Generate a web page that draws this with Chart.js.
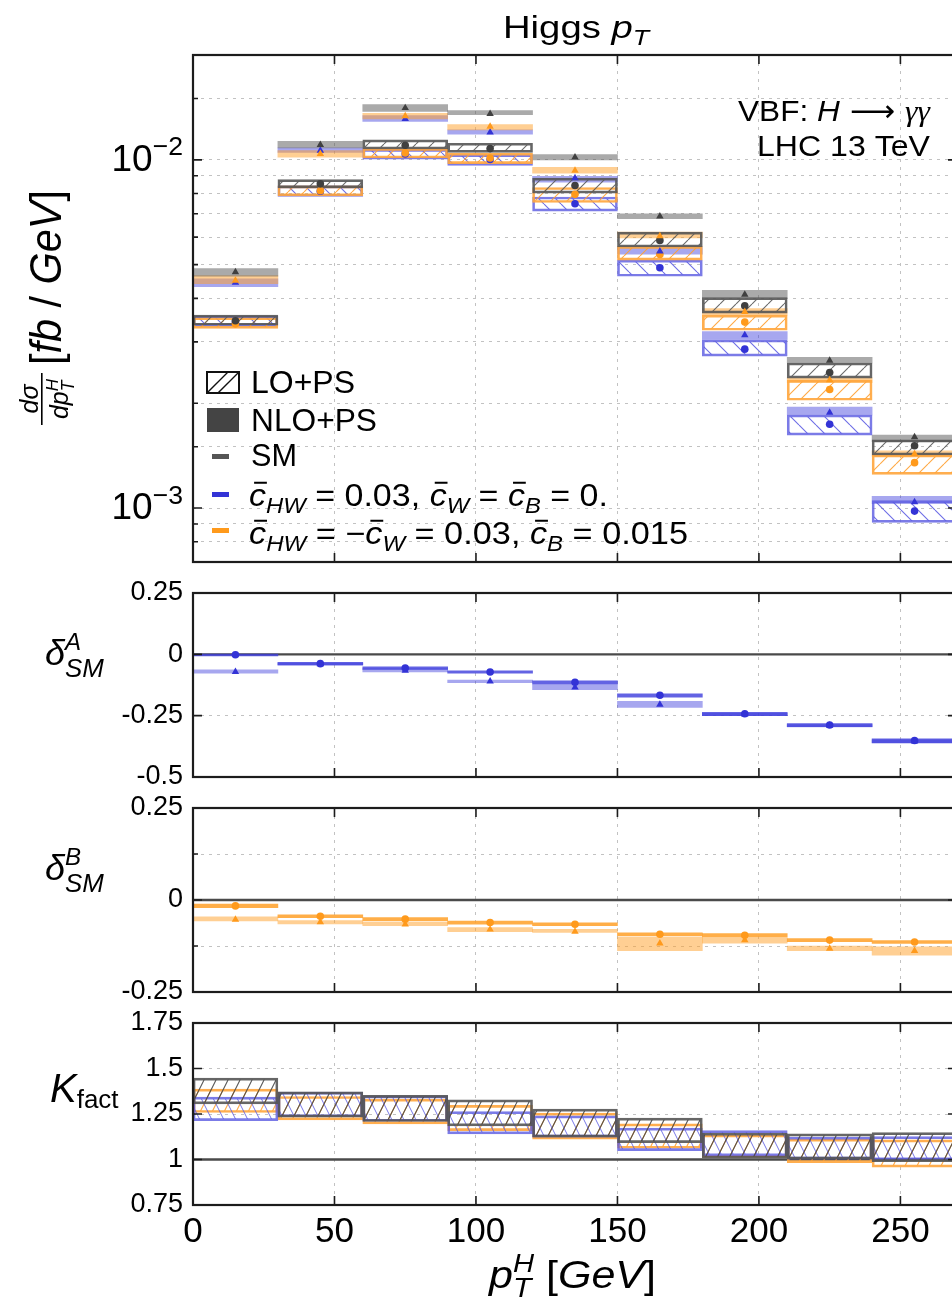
<!DOCTYPE html>
<html>
<head>
<meta charset="utf-8">
<title>Higgs pT</title>
<script src="https://cdn.jsdelivr.net/npm/chart.js@4.4.1/dist/chart.umd.min.js"></script>
<style>
  html, body { margin: 0; padding: 0; background: #fff; overflow: hidden; width: 952px; height: 1303px; }
  canvas { position: absolute; left: 0; top: 0; }
</style>
</head>
<body>
<canvas id="main" width="1000" height="1303"></canvas>
<canvas id="deltaA" width="1000" height="1303"></canvas>
<canvas id="deltaB" width="1000" height="1303"></canvas>
<canvas id="kfact" width="1000" height="1303"></canvas>
<script>
// bins in pT (GeV)
const binEdges = [0, 30, 60, 90, 120, 150, 180, 210, 240, 270];
const binCenters = binEdges.slice(1).map((e, i) => (e + binEdges[i]) / 2);

// d sigma / d pT [fb/GeV] -- SM
const smLo = [0.00345, 0.00853, 0.01101, 0.01077, 0.00844, 0.00587, 0.00381, 0.00245, 0.00151];
const smLoBand = [[0.00335, 0.00358], [0.00831, 0.00877], [0.01074, 0.01141], [0.01051, 0.01116], [0.00802, 0.00886], [0.00562, 0.00620], [0.00363, 0.00402], [0.00236, 0.00261], [0.00142, 0.00157]];
const smNlo = [0.00476, 0.01104, 0.01409, 0.01355, 0.01017, 0.00688, 0.00410, 0.00265, 0.00160];
const smNloBand = [[0.00463, 0.00487], [0.01082, 0.01131], [0.01378, 0.01440], [0.01347, 0.01384], [0.01000, 0.01035], [0.00678, 0.00700], [0.00402, 0.00422], [0.00261, 0.00271], [0.00155, 0.00162]];

// cHW = 0.03, cW = cB = 0
const aLo = [0.00342, 0.00813, 0.01040, 0.01002, 0.00748, 0.00490, 0.00286, 0.00174, 0.00098];
const aLoBand = [[0.00333, 0.00356], [0.00785, 0.00842], [0.01004, 0.01072], [0.00963, 0.01035], [0.00712, 0.00782], [0.00463, 0.00515], [0.00273, 0.00304], [0.00162, 0.00185], [0.00091, 0.00105]];
const aNlo = [0.00444, 0.01063, 0.01311, 0.01200, 0.00886, 0.00546, 0.00314, 0.00188, 0.00104];
const aNloBand = [[0.00432, 0.00455], [0.01051, 0.01082], [0.01290, 0.01339], [0.01185, 0.01220], [0.00863, 0.00896], [0.00536, 0.00560], [0.00305, 0.00321], [0.00185, 0.00195], [0.00103, 0.00108]];

// cHW = -cW = 0.03, cB = 0.015
const bLo = [0.00338, 0.00815, 0.01046, 0.01012, 0.00796, 0.00535, 0.00342, 0.00219, 0.00135];
const bLoBand = [[0.00328, 0.00352], [0.00788, 0.00842], [0.01012, 0.01078], [0.00975, 0.01045], [0.00754, 0.00833], [0.00515, 0.00564], [0.00324, 0.00358], [0.00204, 0.00233], [0.00125, 0.00142]];
const bNlo = [0.00450, 0.01040, 0.01335, 0.01246, 0.00932, 0.00604, 0.00366, 0.00233, 0.00143];
const bNloBand = [[0.00441, 0.00465], [0.01017, 0.01063], [0.01311, 0.01360], [0.01219, 0.01263], [0.00916, 0.00952], [0.00597, 0.00620], [0.00358, 0.00374], [0.00229, 0.00237], [0.00141, 0.00146]];

// relative deviation from the SM
const dALo = [-0.002, -0.038, -0.056, -0.072, -0.114, -0.167, -0.242, -0.288, -0.351];
const dALoBand = [[-0.006, 0.001], [-0.043, -0.033], [-0.061, -0.051], [-0.077, -0.067], [-0.122, -0.108], [-0.175, -0.161], [-0.250, -0.236], [-0.295, -0.282], [-0.360, -0.344]];
const dANlo = [-0.071, -0.040, -0.066, -0.110, -0.135, -0.205, -0.245, -0.290, -0.355];
const dANloBand = [[-0.077, -0.063], [-0.044, -0.036], [-0.072, -0.058], [-0.115, -0.105], [-0.144, -0.124], [-0.216, -0.192], [-0.250, -0.240], [-0.296, -0.286], [-0.362, -0.348]];

const dBLo = [-0.016, -0.044, -0.052, -0.061, -0.066, -0.093, -0.096, -0.109, -0.114];
const dBLoBand = [[-0.021, -0.011], [-0.048, -0.040], [-0.057, -0.048], [-0.066, -0.057], [-0.070, -0.062], [-0.097, -0.089], [-0.100, -0.091], [-0.113, -0.105], [-0.118, -0.110]];
const dBNlo = [-0.053, -0.060, -0.066, -0.080, -0.086, -0.118, -0.109, -0.132, -0.138];
const dBNloBand = [[-0.057, -0.046], [-0.065, -0.056], [-0.070, -0.061], [-0.086, -0.075], [-0.088, -0.080], [-0.138, -0.100], [-0.117, -0.102], [-0.138, -0.125], [-0.150, -0.127]];

// K factor bands (NLO / LO)
const kSmBand = [[1.306, 1.447], [1.233, 1.372], [1.209, 1.352], [1.185, 1.328], [1.123, 1.277], [1.093, 1.227], [1.007, 1.145], [1.002, 1.141], [0.988, 1.148]];
const kABand = [[1.214, 1.343], [1.235, 1.370], [1.210, 1.350], [1.141, 1.263], [1.123, 1.240], [1.049, 1.172], [1.020, 1.159], [1.002, 1.123], [0.998, 1.126]];
const kBBand = [[1.258, 1.387], [1.218, 1.346], [1.196, 1.332], [1.159, 1.297], [1.112, 1.255], [1.062, 1.196], [1.012, 1.135], [0.983, 1.112], [0.958, 1.108]];

const W = 1000, H = 1303, PLOT_L = 193, PLOT_R = 957;
const FAM = "'Liberation Sans', Arial, Helvetica, sans-serif";
Chart.defaults.font.family = FAM;
Chart.defaults.color = '#000';

const GRAY = '#404040', BLUE = '#3333d6', ORANGE = '#ff9a1c';

function hatch(color, dir, w, h, lw) {
  const c = document.createElement('canvas');
  c.width = w; c.height = h;
  const g = c.getContext('2d');
  g.strokeStyle = color;
  g.lineWidth = lw;
  g.beginPath();
  for (const dx of [-w, 0, w]) {
    if (dir > 0) { g.moveTo(dx, h); g.lineTo(dx + w, 0); }
    else { g.moveTo(dx, 0); g.lineTo(dx + w, h); }
  }
  g.stroke();
  return g.createPattern(c, 'repeat');
}

// rich text: runs of {t, it, sz, dy, keep, bar, fam}
const N = t => ({ t });
const I = t => ({ t, it: true });
const CB = () => ({ t: 'c', it: true, bar: true });
const SUB = t => ({ t, it: true, sz: 0.7, dy: 0.22 });
const SUP = t => ({ t, it: true, sz: 0.68, dy: -0.42, keep: true });

function rich(ctx, runs, x, y, fs, opt = {}) {
  ctx.save();
  const items = [];
  let pos = 0, held = 0;
  for (const r of runs) {
    const size = fs * (r.sz || 1);
    const f = (r.it ? 'italic ' : '') + size.toFixed(1) + 'px ' + (r.fam || FAM);
    ctx.font = f;
    const w = ctx.measureText(r.t).width;
    items.push({ r, f, size, x: pos, w });
    if (r.keep) held = w;
    else { pos += Math.max(w, held); held = 0; }
  }
  const sx = opt.width ? opt.width / pos : 1;
  const total = pos * sx;
  const x0 = opt.align === 'right' ? x - total : opt.align === 'center' ? x - total / 2 : x;
  ctx.translate(x0, y);
  ctx.scale(sx, 1);
  ctx.fillStyle = ctx.strokeStyle = opt.color || '#000';
  ctx.textBaseline = 'alphabetic';
  ctx.textAlign = 'left';
  for (const it of items) {
    ctx.font = it.f;
    const dy = (it.r.dy || 0) * fs;
    ctx.fillText(it.r.t, it.x, dy);
    if (it.r.bar) {
      ctx.lineWidth = Math.max(1.3, it.size * 0.065);
      const by = dy - it.size * 0.75;
      ctx.beginPath();
      ctx.moveTo(it.x + it.w * 0.3, by);
      ctx.lineTo(it.x + it.w * 1.05, by);
      ctx.stroke();
    }
  }
  ctx.restore();
}

const barCommon = { type: 'bar', grouped: false, barPercentage: 1, categoryPercentage: 1, borderSkipped: false, borderWidth: 0 };
function band(pairs, style) {
  return { ...barCommon, data: pairs.map((p, i) => ({ x: binCenters[i], y: p })), ...style };
}
function marks(vals, shape, color, r) {
  return {
    type: 'line', showLine: false, order: 0,
    data: vals.map((v, i) => ({ x: binCenters[i], y: v })),
    pointStyle: shape, pointRadius: r, pointBackgroundColor: color, pointBorderColor: color, pointBorderWidth: 0
  };
}
function refLine(v) {
  return {
    type: 'line', order: 9, pointRadius: 0, borderColor: '#4a4a4a', borderWidth: 2.4,
    data: [{ x: binEdges[0], y: v }, { x: binEdges[binEdges.length - 1], y: v }]
  };
}

function isMajorY(scale, v) {
  if (scale.type === 'logarithmic') {
    const e = Math.log10(v);
    return Math.abs(e - Math.round(e)) < 1e-6;
  }
  return Math.abs(v / 0.25 - Math.round(v / 0.25)) < 1e-6;
}

// inward ticks on all four sides plus the plot frame
const framePlugin = {
  id: 'frame',
  afterDatasetsDraw(chart) {
    const { ctx, chartArea: a } = chart;
    const x = chart.scales.x, y = chart.scales.y;
    ctx.save();
    ctx.strokeStyle = '#1c1c1c';
    ctx.lineWidth = 1.6;
    ctx.beginPath();
    x.ticks.forEach(t => {
      const px = x.getPixelForValue(t.value);
      ctx.moveTo(px, a.top); ctx.lineTo(px, a.top + 9);
      ctx.moveTo(px, a.bottom); ctx.lineTo(px, a.bottom - 9);
    });
    y.ticks.forEach(t => {
      const py = y.getPixelForValue(t.value);
      const len = isMajorY(y, t.value) ? 9 : 5;
      ctx.moveTo(a.left, py); ctx.lineTo(a.left + len, py);
      ctx.moveTo(a.right, py); ctx.lineTo(a.right - len, py);
    });
    ctx.stroke();
    ctx.lineWidth = 2.2;
    ctx.strokeRect(a.left, a.top, a.right - a.left, a.bottom - a.top);
    ctx.restore();
  }
};

const gridOpts = { color: '#c2c2c2', lineWidth: 1, drawTicks: false, offset: false };
function xScale(labels) {
  return {
    type: 'linear', min: binEdges[0], max: binEdges[binEdges.length - 1], offset: false,
    grid: gridOpts,
    border: { display: false, dash: [3, 5] },
    ticks: { display: labels, stepSize: 50, includeBounds: false, autoSkip: false, maxRotation: 0, padding: 6, color: '#000', font: { size: 35 } },
    afterFit: s => { s.height = labels ? H - 1205 : 0; }
  };
}
function yLinear(min, max) {
  return {
    type: 'linear', min, max,
    grid: gridOpts,
    border: { display: false, dash: [3, 5] },
    ticks: { stepSize: 0.125, padding: 10, color: '#000', font: { size: 27 }, callback: v => (Math.abs(v / 0.25 - Math.round(v / 0.25)) < 1e-6 ? String(+v.toFixed(3)) : '') },
    afterFit: s => { s.width = PLOT_L; }
  };
}
function baseOptions(top, bottom, yOpts, xLabels) {
  return {
    responsive: false, animation: false, events: [], devicePixelRatio: 1,
    layout: { padding: { top, bottom: H - bottom, left: 0, right: W - PLOT_R } },
    plugins: { legend: { display: false }, tooltip: { enabled: false } },
    scales: { x: xScale(xLabels), y: yOpts }
  };
}

// ---------- main distribution ----------
const hMain = {
  sm: hatch('rgba(90,90,90,0.9)', 1, 16, 16, 1.1),
  a: hatch('rgba(85,85,225,0.85)', -1, 17, 17, 1.1),
  b: hatch('rgba(255,160,50,0.9)', 1, 16, 16, 1.1)
};

const mainText = {
  id: 'mainText',
  afterDraw(chart) {
    const ctx = chart.ctx, y = chart.scales.y;
    y.ticks.forEach(t => {
      if (!isMajorY(y, t.value)) return;
      const e = Math.round(Math.log10(t.value));
      const py = y.getPixelForValue(t.value);
      rich(ctx, [N('10'), { t: '\u2212' + Math.abs(e), sz: 0.72, dy: -0.42 }], 183, py + 11, 37, { align: 'right' });
    });

    rich(ctx, [N('Higgs '), I('p'), SUB('T')], 503, 38, 32, { width: 146 });
    rich(ctx, [N('VBF: '), I('H'), { t: ' \u27f6 ', fam: "'DejaVu Sans'" }, { t: '\u03b3\u03b3', it: true, fam: "'Liberation Serif'" }], 930, 121, 30, { align: 'right', width: 192 });
    rich(ctx, [N('LHC 13 TeV')], 930, 156, 30, { align: 'right', width: 173 });

    // y title, rotated
    ctx.save();
    ctx.translate(0, 425);
    ctx.rotate(-Math.PI / 2);
    rich(ctx, [I('d\u03c3')], 26, 38, 25, { align: 'center' });
    ctx.fillStyle = '#000';
    ctx.fillRect(0, 41, 52, 1.6);
    rich(ctx, [I('dp'), SUP('H'), SUB('T')], 26, 68, 25, { align: 'center' });
    rich(ctx, [N('['), I('fb'), N(' / '), I('GeV'), N(']')], 60, 61, 44, { width: 175 });
    ctx.restore();

    // legend
    ctx.save();
    ctx.strokeStyle = '#111';
    ctx.lineWidth = 2;
    ctx.strokeRect(207, 372, 32, 21);
    ctx.beginPath();
    ctx.rect(207, 372, 32, 21);
    ctx.clip();
    ctx.lineWidth = 1.4;
    ctx.beginPath();
    ctx.moveTo(207, 393); ctx.lineTo(228, 372);
    ctx.moveTo(218, 393); ctx.lineTo(239, 372);
    ctx.stroke();
    ctx.restore();
    ctx.fillStyle = '#444';
    ctx.fillRect(207, 408, 32, 24);
    ctx.fillStyle = '#555';
    ctx.fillRect(212, 454, 17, 5);
    ctx.fillStyle = BLUE;
    ctx.fillRect(212, 492, 17, 5);
    ctx.fillStyle = ORANGE;
    ctx.fillRect(212, 528, 17, 5);

    rich(ctx, [N('LO+PS')], 251, 393, 31, { width: 104 });
    rich(ctx, [N('NLO+PS')], 251, 431, 31, { width: 126 });
    rich(ctx, [N('SM')], 251, 466, 31, { width: 46 });
    rich(ctx, [CB(), SUB('HW'), N(' = 0.03, '), CB(), SUB('W'), N(' = '), CB(), SUB('B'), N(' = 0.')], 249, 506, 31, { width: 359 });
    rich(ctx, [CB(), SUB('HW'), N(' = \u2212'), CB(), SUB('W'), N(' = 0.03, '), CB(), SUB('B'), N(' = 0.015')], 249, 544, 31, { width: 439 });
  }
};

new Chart(document.getElementById('main'), {
  type: 'bar',
  data: {
    datasets: [
      band(smNloBand, { backgroundColor: 'rgba(85,85,85,0.5)', order: 3 }),
      band(bNloBand, { backgroundColor: 'rgba(255,160,40,0.5)', order: 3 }),
      band(aNloBand, { backgroundColor: 'rgba(60,60,220,0.45)', order: 3 }),
      band(smLoBand, { backgroundColor: hMain.sm, borderColor: 'rgba(85,85,85,0.9)', borderWidth: 2, order: 2 }),
      band(bLoBand, { backgroundColor: hMain.b, borderColor: 'rgba(255,165,60,0.9)', borderWidth: 2, order: 2 }),
      band(aLoBand, { backgroundColor: hMain.a, borderColor: 'rgba(90,90,225,0.8)', borderWidth: 2, order: 2 }),
      marks(smNlo, 'triangle', GRAY, 4.3),
      marks(bNlo, 'triangle', ORANGE, 4.3),
      marks(aNlo, 'triangle', BLUE, 4.3),
      marks(smLo, 'circle', GRAY, 3.8),
      marks(bLo, 'circle', ORANGE, 3.8),
      marks(aLo, 'circle', BLUE, 3.8)
    ]
  },
  options: baseOptions(55, 562, {
    type: 'logarithmic', min: 0.0007, max: 0.02,
    grid: gridOpts,
    border: { display: false, dash: [3, 5] },
    ticks: { padding: 10, callback: () => '' },
    afterFit: s => { s.width = PLOT_L; }
  }, false),
  plugins: [framePlugin, mainText]
});

// ---------- deviation panels ----------
function deltaLabel(sup, baseY) {
  return {
    id: 'deltaLabel' + sup,
    afterDraw(chart) {
      rich(chart.ctx, [I('\u03b4'), { t: sup, it: true, sz: 0.67, dy: -0.42, keep: true }, { t: 'SM', it: true, sz: 0.72, dy: 0.33 }], 45, baseY, 36);
    }
  };
}

new Chart(document.getElementById('deltaA'), {
  type: 'bar',
  data: {
    datasets: [
      refLine(0),
      band(dANloBand, { backgroundColor: 'rgba(60,60,220,0.45)', order: 3 }),
      band(dALoBand, { backgroundColor: 'rgba(60,60,220,0.8)', order: 2 }),
      marks(dANlo, 'triangle', BLUE, 4.3),
      marks(dALo, 'circle', BLUE, 3.8)
    ]
  },
  options: baseOptions(593, 777, yLinear(-0.5, 0.25), false),
  plugins: [framePlugin, deltaLabel('A', 665)]
});

new Chart(document.getElementById('deltaB'), {
  type: 'bar',
  data: {
    datasets: [
      refLine(0),
      band(dBNloBand, { backgroundColor: 'rgba(255,160,40,0.5)', order: 3 }),
      band(dBLoBand, { backgroundColor: 'rgba(255,160,40,0.85)', order: 2 }),
      marks(dBNlo, 'triangle', ORANGE, 4.3),
      marks(dBLo, 'circle', ORANGE, 3.8)
    ]
  },
  options: baseOptions(808, 992, yLinear(-0.25, 0.25), false),
  plugins: [framePlugin, deltaLabel('B', 880)]
});

// ---------- K factor ----------
const hK = {
  sm: hatch('rgba(70,70,70,0.9)', 1, 12, 24, 1.1),
  a: hatch('rgba(85,85,225,0.8)', -1, 12, 24, 1),
  b: hatch('rgba(255,160,50,0.9)', 1, 12, 24, 1.1)
};

const kText = {
  id: 'kText',
  afterDraw(chart) {
    const ctx = chart.ctx;
    rich(ctx, [I('K'), { t: 'fact', sz: 0.65, dy: 0.15 }], 50, 1102, 40);
    rich(ctx, [I('p'), SUP('H'), SUB('T'), N(' ['), I('GeV'), N(']')], 489, 1288, 39, { width: 167 });
  }
};

new Chart(document.getElementById('kfact'), {
  type: 'bar',
  data: {
    datasets: [
      refLine(1),
      band(kBBand, { backgroundColor: hK.b, borderColor: 'rgba(255,165,60,0.9)', borderWidth: 2, order: 3 }),
      band(kABand, { backgroundColor: hK.a, borderColor: 'rgba(90,90,225,0.8)', borderWidth: 2, order: 2 }),
      band(kSmBand, { backgroundColor: hK.sm, borderColor: 'rgba(85,85,85,0.9)', borderWidth: 2, order: 1 })
    ]
  },
  options: (() => {
    const o = baseOptions(1023, H, yLinear(0.75, 1.75), true);
    o.layout.padding.bottom = 0;
    return o;
  })(),
  plugins: [framePlugin, kText]
});
</script>
</body>
</html>
